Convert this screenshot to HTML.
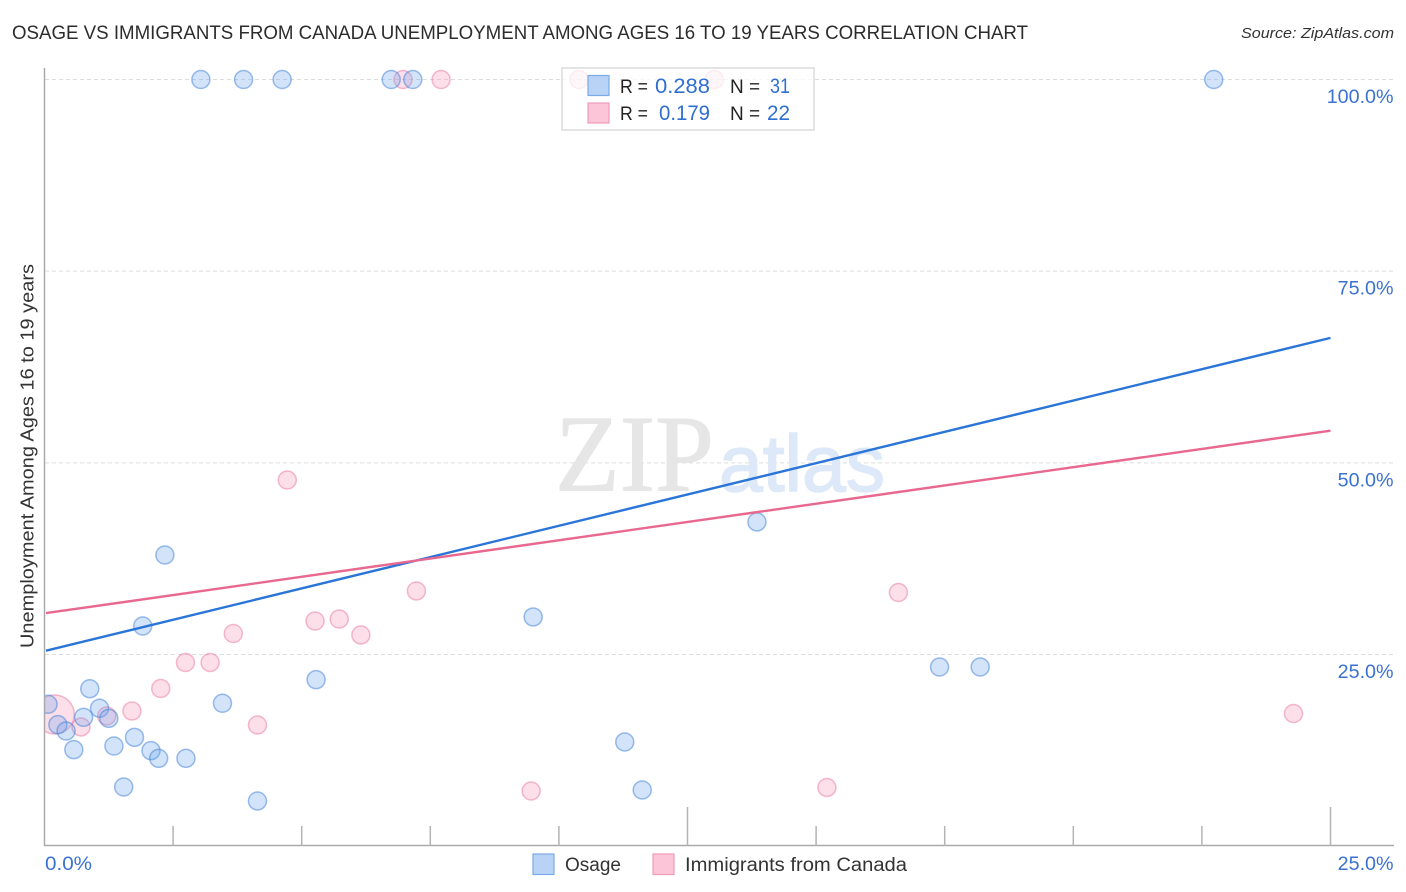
<!DOCTYPE html>
<html>
<head>
<meta charset="utf-8">
<style>
html,body{margin:0;padding:0;background:#fff;}
svg{display:block;}
text{font-family:"Liberation Sans",sans-serif;}
</style>
</head>
<body>
<svg id="chart" xmlns="http://www.w3.org/2000/svg" width="1406" height="892" viewBox="0 0 1406 892">
  <defs>
    <clipPath id="plot-clip"><rect x="45" y="60" width="1349" height="786"/></clipPath>
  </defs>
  <rect x="0" y="0" width="1406" height="892" fill="#fff"/>
  <text x="12" y="39" font-size="19.5" fill="#2c2c2c" textLength="1016" lengthAdjust="spacingAndGlyphs">OSAGE VS IMMIGRANTS FROM CANADA UNEMPLOYMENT AMONG AGES 16 TO 19 YEARS CORRELATION CHART</text>
  <text x="1241" y="38" font-size="15" font-style="italic" fill="#333" textLength="153" lengthAdjust="spacingAndGlyphs">Source: ZipAtlas.com</text>

  <g id="grid"></g>

  <g>
    <text x="555" y="490.5" style="font-family:'Liberation Serif',serif" font-size="109" fill="#e6e6e6" stroke="#e6e6e6" stroke-width="1" textLength="159" lengthAdjust="spacingAndGlyphs">ZIP</text>
    <text x="719" y="491" font-size="80" fill="#dde8f8" stroke="#dde8f8" stroke-width="1.5" textLength="166" lengthAdjust="spacingAndGlyphs">atlas</text>
  </g>

  <g id="points-pink" clip-path="url(#plot-clip)"></g>
  <g id="points-blue" clip-path="url(#plot-clip)"></g>
  <g id="lines"></g>
  <g id="axes"></g>

  <text transform="translate(33.5,648) rotate(-90)" font-size="18.5" fill="#333" textLength="384" lengthAdjust="spacingAndGlyphs">Unemployment Among Ages 16 to 19 years</text>

  <g>
    <rect x="562" y="68" width="252" height="62" fill="#fff" fill-opacity="0.75" stroke="#dcdcdc" stroke-width="1.5"/>
    <rect x="588" y="75.5" width="21" height="20" fill="#b8d3f6" stroke="#7baae6" stroke-width="1.2"/>
    <rect x="588" y="103" width="21" height="20" fill="#fcc6d8" stroke="#f09cb8" stroke-width="1.2"/>
    <text x="620" y="93" font-size="19" fill="#222" textLength="28" lengthAdjust="spacingAndGlyphs">R =</text>
    <text x="655" y="93" font-size="21" fill="#2f6fd0" textLength="55" lengthAdjust="spacingAndGlyphs">0.288</text>
    <text x="730" y="93" font-size="19" fill="#222">N =</text>
    <text x="770" y="93" font-size="21" fill="#2f6fd0" textLength="20" lengthAdjust="spacingAndGlyphs">31</text>
    <text x="620" y="120" font-size="19" fill="#222" textLength="28" lengthAdjust="spacingAndGlyphs">R =</text>
    <text x="659" y="120" font-size="21" fill="#2f6fd0" textLength="51" lengthAdjust="spacingAndGlyphs">0.179</text>
    <text x="730" y="120" font-size="19" fill="#222">N =</text>
    <text x="767" y="120" font-size="21" fill="#2f6fd0" textLength="23" lengthAdjust="spacingAndGlyphs">22</text>
  </g>

  <g>
    <rect x="533" y="854" width="21" height="20.5" fill="#b8d3f6" stroke="#7baae6" stroke-width="1.2"/>
    <text x="565" y="871" font-size="19" fill="#333" textLength="56" lengthAdjust="spacingAndGlyphs">Osage</text>
    <rect x="653" y="854" width="21" height="20.5" fill="#fcc6d8" stroke="#f09cb8" stroke-width="1.2"/>
    <text x="685" y="871" font-size="19" fill="#333" textLength="222" lengthAdjust="spacingAndGlyphs">Immigrants from Canada</text>
  </g>
</svg>
<script>
const xTickValues = [2.5, 5, 7.5, 10, 12.5, 15, 17.5, 20, 22.5, 25];
const xMajorTicks = [12.5, 25];
const xEdgeLabels = ['0.0%', '25.0%'];
const yTickValues = [100, 75, 50, 25];
const yTickLabels = ['100.0%', '75.0%', '50.0%', '25.0%'];

const osageX = [3.04, 3.87, 4.62, 6.74, 7.16, 22.73, 13.85, 2.34, 9.50, 1.91, 17.40, 18.19, 5.28, 0.88, 3.46, 0.07, 1.07, 0.76, 1.25, 0.26, 0.42, 1.75, 1.35, 0.57, 2.07, 2.22, 2.75, 11.28, 1.54, 11.62, 4.14];
const osageY = [100, 100, 100, 100, 100, 100, 42.29, 37.98, 29.90, 28.72, 23.37, 23.37, 21.72, 20.54, 18.64, 18.51, 17.99, 16.81, 16.68, 15.85, 15.03, 14.20, 13.07, 12.59, 12.46, 11.46, 11.46, 13.59, 7.72, 7.33, 5.90];

const canadaX = [6.97, 7.71, 10.39, 13.02, 4.72, 7.23, 16.60, 5.73, 5.26, 3.67, 6.15, 2.74, 3.22, 2.26, 1.70, 1.21, 24.28, 4.14, 0.71, 0.20, 9.46, 15.21];
const canadaY = [100, 100, 100, 100, 47.76, 33.29, 33.09, 29.63, 29.37, 27.74, 27.55, 23.96, 23.96, 20.57, 17.63, 16.98, 17.31, 15.81, 15.55, 17.18, 7.20, 7.66];
const canadaWeight = [1, 1, 1, 1, 1, 1, 1, 1, 1, 1, 1, 1, 1, 1, 1, 1, 1, 1, 1, 4.7, 1, 1];

const osageTrendX = [0.03, 25];
const osageTrendY = [25.5, 66.3];
const canadaTrendX = [0.03, 25];
const canadaTrendY = [30.4, 54.2];

const SVG_NS = 'http://www.w3.org/2000/svg';
function xScale(v) { return 44.5 + v * 51.44; }
function yScale(v) { return 846.2 - v * 7.667; }
function make(tag, attrs, parent) {
  const el = document.createElementNS(SVG_NS, tag);
  for (const k in attrs) el.setAttribute(k, attrs[k]);
  parent.appendChild(el);
  return el;
}

const gridG = document.getElementById('grid');
const axesG = document.getElementById('axes');
const linesG = document.getElementById('lines');
const blueG = document.getElementById('points-blue');
const pinkG = document.getElementById('points-pink');

yTickValues.forEach(function (v, i) {
  const line = make('line', {x1: 45, x2: 1394, y1: yScale(v), y2: yScale(v), stroke: '#dddddd', 'stroke-width': 1, 'stroke-dasharray': '4 3'}, gridG);
  
  
  const label = make('text', {x: 1393.5, y: yScale(v) + 23.5, 'font-size': 19.7, fill: '#3a72d2', 'text-anchor': 'end'}, axesG);
  label.textContent = yTickLabels[i];
  
  
});

const yAxis = make('line', {x1: 44.5, x2: 44.5, y1: 68, y2: 846, stroke: '#aaaaaa', 'stroke-width': 1.5}, axesG);


const xAxis = make('line', {x1: 44, x2: 1394, y1: 845.5, y2: 845.5, stroke: '#aaaaaa', 'stroke-width': 1.5}, axesG);



xTickValues.forEach(function (v) {
  const top = xMajorTicks.indexOf(v) >= 0 ? 807 : 826;
  const tick = make('line', {x1: xScale(v), x2: xScale(v), y1: top, y2: 846, stroke: '#b4b4b4', 'stroke-width': 1.5}, axesG);
  
  
});

const xLabelLeft = make('text', {x: 45, y: 870, 'font-size': 19.7, fill: '#3a72d2', textLength: 47, lengthAdjust: 'spacingAndGlyphs'}, axesG);
xLabelLeft.textContent = xEdgeLabels[0];


const xLabelRight = make('text', {x: 1393.5, y: 870, 'font-size': 19.7, fill: '#3a72d2', 'text-anchor': 'end'}, axesG);
xLabelRight.textContent = xEdgeLabels[1];



canadaX.forEach(function (v, i) {
  const dot = make('circle', {cx: xScale(v), cy: yScale(canadaY[i]), r: 9 * Math.sqrt(canadaWeight[i]), fill: 'rgba(246,150,182,0.3)', stroke: 'rgba(233,120,158,0.5)', 'stroke-width': 1.5}, pinkG);
  
  
});
osageX.forEach(function (v, i) {
  const dot = make('circle', {cx: xScale(v), cy: yScale(osageY[i]), r: 9, fill: 'rgba(110,165,240,0.3)', stroke: 'rgba(60,125,215,0.5)', 'stroke-width': 1.5}, blueG);
  
  
});

const osageLine = make('line', {x1: xScale(osageTrendX[0]), y1: yScale(osageTrendY[0]), x2: xScale(osageTrendX[1]), y2: yScale(osageTrendY[1]), stroke: '#2a75d8', 'stroke-width': 2.4}, linesG);


const canadaLine = make('line', {x1: xScale(canadaTrendX[0]), y1: yScale(canadaTrendY[0]), x2: xScale(canadaTrendX[1]), y2: yScale(canadaTrendY[1]), stroke: '#e9688f', 'stroke-width': 2.4}, linesG);


</script>
</body>
</html>
